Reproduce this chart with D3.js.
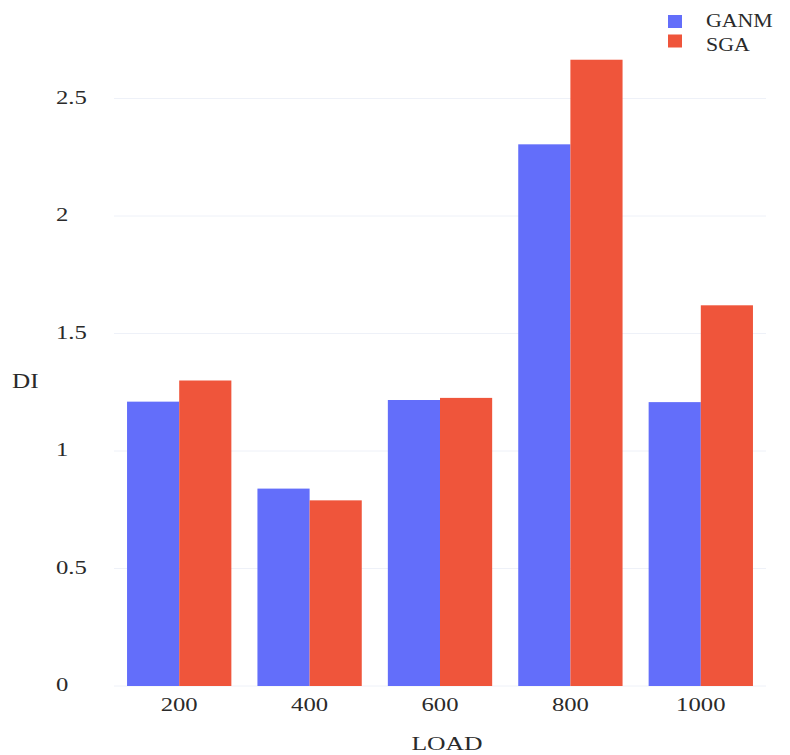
<!DOCTYPE html>
<html><head><meta charset="utf-8">
<script src="https://cdn.jsdelivr.net/npm/d3@7"></script>
<style>body{margin:0;background:#fff}svg{display:block}text{font-family:"Liberation Serif","Times New Roman",serif;fill:#2a2a2a}</style>
</head><body><svg id="c" width="790" height="755"></svg>
<script>
const categories = ["200","400","600","800","1000"];
const seriesNames = ["GANM","SGA"];
const ganm = [1.21, 0.84, 1.217, 2.305, 1.208];
const sga = [1.30, 0.79, 1.226, 2.665, 1.62];
const yTicks = [0, 0.5, 1, 1.5, 2, 2.5];
const colors = ["#636efa","#ef553b"];

const svg = d3.select("#c");
const m = {l:114, r:766, t:40, b:686};
const x = d3.scaleBand().domain(categories).range([m.l, m.r]).paddingInner(0.2).paddingOuter(0.1);
const xs = d3.scaleBand().domain(seriesNames).range([0, x.bandwidth()]);
const y = d3.scaleLinear().domain([0, 2.72]).range([m.b, m.b - 2.72*235]);

function stext(parent, tx, ty, sx, str, size, anchor) {
  const gg = parent.append("g").attr("transform", `translate(${tx},${ty}) scale(${sx},1)`);
  return gg.append("text").attr("text-anchor", anchor).attr("font-size", size).text(str);
}

// grid
svg.append("g").selectAll("line").data(yTicks).join("line")
  .attr("x1", m.l).attr("x2", m.r).attr("y1", d=>y(d)).attr("y2", d=>y(d))
  .attr("stroke", "#eef1f8").attr("stroke-width", 1);

// y tick labels
const yg = svg.append("g");
yTicks.forEach(t => stext(yg, 56, y(t) + 5, 1.3, String(t), 19, "start"));

// bars
const data = categories.map((c,i)=>({c, vals:[ganm[i], sga[i]]}));
const g = svg.append("g").selectAll("g").data(data).join("g")
  .attr("transform", d=>`translate(${x(d.c)},0)`);
g.selectAll("rect").data(d=>d.vals.map((v,j)=>({v, s:seriesNames[j], j})))
  .join("rect")
  .attr("x", d=>xs(d.s)).attr("width", xs.bandwidth())
  .attr("y", d=>y(d.v)).attr("height", d=>y(0)-y(d.v))
  .attr("fill", d=>colors[d.j]);

// x tick labels
const xg = svg.append("g");
categories.forEach(c => stext(xg, x(c)+x.bandwidth()/2, 711, 1.3, c, 19, "middle"));

// axis titles
stext(svg, 447, 750, 1.35, "LOAD", 19, "middle");
stext(svg, 12, 388, 1.2, "DI", 21, "start");

// legend
const lg = svg.append("g");
seriesNames.forEach((s,i) => {
  lg.append("rect").attr("x",668).attr("y", 15 + i*19.5).attr("width",14).attr("height",13)
    .attr("fill", colors[i]);
  stext(lg, 706, 27 + i*24, 1.15, s, 19, "start");
});
</script></body></html>
